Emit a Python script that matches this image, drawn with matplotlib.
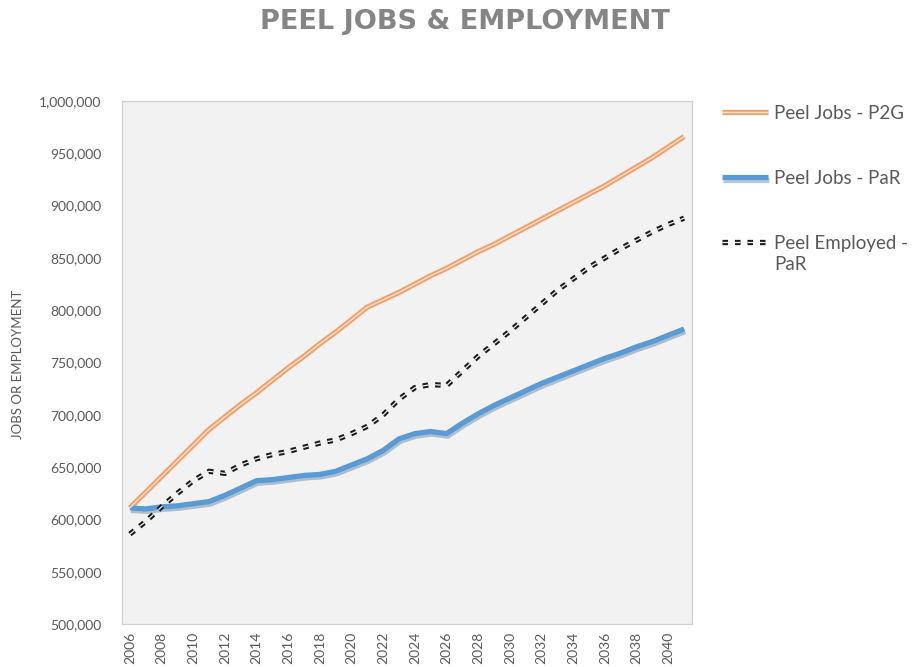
import matplotlib
matplotlib.use("Agg")
import matplotlib.pyplot as plt
import matplotlib.patheffects as pe
from matplotlib.ticker import FuncFormatter, MultipleLocator

plt.rcParams['font.family'] = ['Lato', 'DejaVu Sans']
plt.rcParams['lines.scale_dashes'] = False

years = list(range(2006, 2042))

jobs_p2g = [611000, 626000, 641000, 656000, 671000, 686000, 698000, 710000,
            721000, 733000, 745000, 756000, 768000, 779000, 791000, 803000,
            810000, 817000, 825000, 833000, 840000, 848000, 856000, 863000,
            871000, 879000, 887000, 895000, 903000, 911000, 919000, 928000,
            937000, 946000, 956000, 966000]

jobs_par = [611000, 610000, 612000, 613000, 615000, 617000, 623000, 630000,
            637000, 638000, 640000, 642000, 643000, 646000, 652000, 658000,
            666000, 677000, 682000, 684000, 682000, 692000, 701000, 709000,
            716000, 723000, 730000, 736000, 742000, 748000, 754000, 759000,
            765000, 770000, 776000, 782000]

employed_par = [586000, 598000, 612000, 625000, 637000, 646000, 644000, 652000,
                658000, 662000, 665000, 669000, 673000, 676000, 682000, 689000,
                700000, 715000, 726000, 729000, 728000, 742000, 756000, 768000,
                780000, 793000, 806000, 819000, 830000, 841000, 850000, 859000,
                867000, 875000, 882000, 888000]

TEXT_GREY = '#595959'
W, H = 916, 667

fig = plt.figure(figsize=(W / 100, H / 100), dpi=100)
ax = fig.add_axes([122 / W, 1 - 624 / H, 570 / W, 523 / H])
ax.set_facecolor('#F2F2F2')

# orange double line
p2g_outer, = ax.plot(years, jobs_p2g, color='#F1A06A', lw=3.8, solid_capstyle='butt', zorder=3)
p2g_inner, = ax.plot(years, jobs_p2g, color='#FBE2CF', lw=1.0, solid_capstyle='butt', zorder=4)

# blue line with soft shadow
par_line, = ax.plot(years, jobs_par, color='#5B9BD5', lw=3.8, solid_capstyle='butt', zorder=3,
                    path_effects=[pe.SimpleLineShadow(offset=(0.8, -1.8), shadow_color='#2E5F8E', alpha=0.35),
                                  pe.Normal()])

# black dashed double line
emp_outer, = ax.plot(years, employed_par, color='#1A1A1A', lw=3.8, dashes=(4, 5), zorder=5)
emp_inner, = ax.plot(years, employed_par, color='#F2F2F2', lw=0.9, dashes=(4, 5), zorder=6)

ax.set_xlim(2005.5, 2041.5)
ax.set_ylim(500000, 1000000)
ax.set_xticks(years[::2])
ax.set_xticklabels([str(y) for y in years[::2]], rotation=90)
ax.yaxis.set_major_locator(MultipleLocator(50000))
ax.yaxis.set_major_formatter(FuncFormatter(lambda v, p: '{:,.0f}'.format(v)))
ax.tick_params(length=0, labelsize=10, colors=TEXT_GREY)
ax.tick_params(axis='y', pad=15)
ax.tick_params(axis='x', pad=5.5)
for s in ax.spines.values():
    s.set_color('#D0D0D0')
    s.set_linewidth(0.9)

fig.text(18 / W, 1 - 364 / H, 'JOBS OR EMPLOYMENT', rotation=90, ha='center', va='center',
         fontsize=9.5, color=TEXT_GREY)

fig.text(465 / W, 1 - 22 / H, 'PEEL JOBS & EMPLOYMENT', ha='center', va='center',
         fontsize=19.5, fontweight='bold', color='#858585',
         family=['DejaVu Sans'])

leg = fig.legend([(p2g_outer, p2g_inner), par_line, (emp_outer, emp_inner)],
                 ['Peel Jobs - P2G', 'Peel Jobs - PaR', 'Peel Employed -'],
                 loc='upper left', bbox_to_anchor=(722 / W, 1 - 105 / H),
                 frameon=False, fontsize=13.5, handlelength=2.45, handletextpad=0.32,
                 labelspacing=2.56, borderpad=0, borderaxespad=0)
for t in leg.get_texts():
    t.set_color(TEXT_GREY)

# second line of the last legend label
fig.canvas.draw()
bb = leg.get_texts()[2].get_window_extent()
fig.text(bb.x0 / W, (bb.y0 - 4) / H, 'PaR',
         ha='left', va='top', fontsize=13.5, color=TEXT_GREY)

fig.savefig('out.png', dpi=100)
